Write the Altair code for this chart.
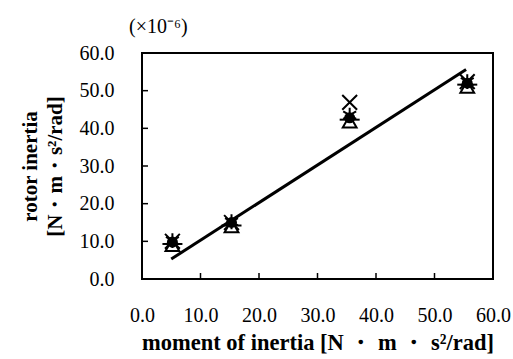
import altair as alt
import pandas as pd

# ---- data ----
x_vals = [5.2, 15.3, 35.5, 55.6]
circle_y = [9.8, 15.0, 42.8, 52.0]
triangle_y = [9.0, 14.0, 41.8, 51.0]
cross_y = [10.0, 15.0, 46.9, 52.4]
star_y = [10.2, 15.2, 43.5, 52.4]
dash_y = [9.3, 14.2, 42.3, 51.6]
fit_x = [5.0, 55.4]
fit_y = [5.3, 55.6]
axis_vals = [0, 10, 20, 30, 40, 50, 60]
inner_ticks = [10, 20, 30, 40, 50]

SERIF = "Liberation Serif"
W, H = 351, 226

xs = alt.Scale(domain=[0, 60], nice=False, zero=False)
ys = alt.Scale(domain=[0, 60], nice=False, zero=False)

x_axis = alt.Axis(
    values=axis_vals, format=".1f", labelFont=SERIF, labelFontSize=20,
    labelColor="black", ticks=False, domain=False, grid=False,
    labelPadding=26, labelFlush=False, labelOverlap=False, labelBound=False,
    title="moment of inertia [N ・ m ・ s²/rad]", titleFont=SERIF,
    titleFontSize=22.5, titleFontWeight="bold", titleColor="black",
    titlePadding=6,
)
y_axis = alt.Axis(
    values=axis_vals, format=".1f", labelFont=SERIF, labelFontSize=20,
    labelColor="black", ticks=False, domain=False, grid=False,
    labelPadding=28, labelFlush=False, labelOverlap=False, labelBound=False,
    title=["rotor inertia", "[N・m・s²/rad]"], titleFont=SERIF,
    titleFontSize=21, titleFontWeight="bold", titleColor="black",
    titleAngle=-90, titleAlign="center", titleBaseline="middle",
    titleX=-112, titleY=H / 2, titleLineHeight=25,
)

X = lambda f: alt.X(f, scale=xs, axis=x_axis)
Y = lambda f: alt.Y(f, scale=ys, axis=y_axis)

fit_df = pd.DataFrame({"x": fit_x, "y": fit_y})
line = alt.Chart(fit_df).mark_line(color="black", strokeWidth=3).encode(
    x=X("x:Q"), y=Y("y:Q"),
)


def pts(yvals, **mark):
    df = pd.DataFrame({"x": x_vals, "y": yvals})
    return alt.Chart(df).mark_point(opacity=1, **mark).encode(
        x=X("x:Q"), y=Y("y:Q"),
    )


tri = pts(triangle_y, shape="triangle-up", size=190, filled=True,
          fill="white", stroke="black", strokeWidth=2)
dash = pts(dash_y, shape="M-1,0L1,0", size=400, filled=False,
           stroke="black", strokeWidth=2)
star = pts(star_y, shape="M0,-1L0,1M-0.87,-0.5L0.87,0.5M-0.87,0.5L0.87,-0.5",
           size=220, filled=False, stroke="black", strokeWidth=2)
cross = pts(cross_y, shape="M-1,-1L1,1M-1,1L1,-1", size=220, filled=False,
            stroke="black", strokeWidth=2)
circ = pts(circle_y, shape="circle", size=120, filled=True, color="black")

tick_df = pd.DataFrame({"v": inner_ticks})
yticks = alt.Chart(tick_df).mark_rule(color="black", strokeWidth=1.5).encode(
    y=Y("v:Q"), x=alt.value(0), x2=alt.value(6)
)
xticks = alt.Chart(tick_df).mark_rule(color="black", strokeWidth=1.5).encode(
    x=X("v:Q"), y=alt.value(H), y2=alt.value(H - 6)
)

unit = alt.Chart(pd.DataFrame({"t": ["(×10⁻⁶)"]})).mark_text(
    font=SERIF, fontSize=20, align="left", baseline="middle", color="black"
).encode(text="t:N", x=alt.value(-13), y=alt.value(-26))

chart = alt.layer(line, tri, dash, star, cross, circ, yticks, xticks, unit).properties(
    width=W, height=H,
    autosize=alt.AutoSizeParams(type="none"),
    padding={"left": 142, "top": 53, "right": 20, "bottom": 80},
    background="white",
).configure_view(stroke="black", strokeWidth=2)

chart.save("out.html", embed_options={"renderer": "svg", "actions": False})
